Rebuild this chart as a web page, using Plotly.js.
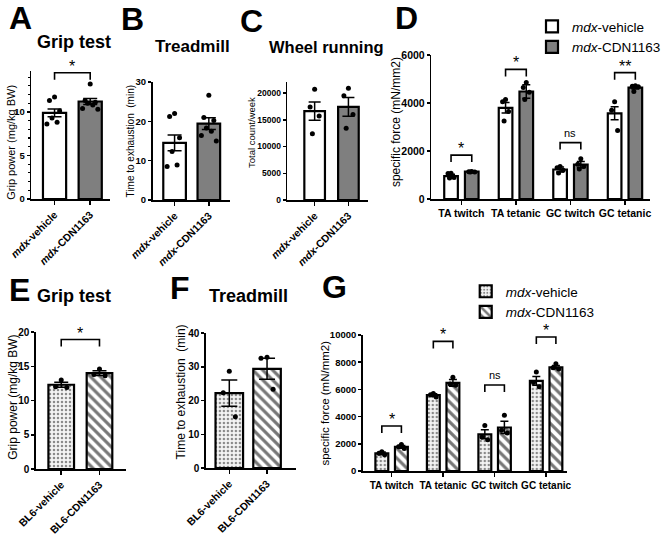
<!DOCTYPE html>
<html><head><meta charset="utf-8">
<script src="https://cdn.plot.ly/plotly-3.0.1.min.js"></script>
<style>html,body{margin:0;padding:0;background:#fff}#chart{width:666px;height:535px}</style>
</head><body><div id="chart"></div>
<script>
// ================= DATA =================
const mdxGroups = ['<i>mdx</i>-vehicle', '<i>mdx</i>-CDN1163'];
const bl6Groups = ['BL6-vehicle', 'BL6-CDN1163'];
const muscleCats = ['TA twitch', 'TA tetanic', 'GC twitch', 'GC tetanic'];
const legendNames = ['<i>mdx</i>-vehicle', '<i>mdx</i>-CDN1163'];

// A: grip test (mdx)
const gripMdxMean = [9.9, 11.2];
const gripMdxSem = [0.45, 0.35];
const gripMdxVehDots = [11.7, 11.3, 10.1, 9.3, 8.8, 8.6];
const gripMdxCdnDots = [13.2, 11.3, 11.1, 11.0, 10.8, 10.4, 10.3];
const gripMdxSigY = [14.5];
const gripMdxSigLabel = ['*'];

// B: treadmill (mdx)
const treadMdxMean = [14.5, 19.4];
const treadMdxSem = [2.0, 1.5];
const treadMdxVehDots = [22.0, 21.2, 15.8, 12.3, 8.9, 8.5];
const treadMdxCdnDots = [26.6, 21.0, 20.2, 18.3, 17.5, 16.4, 15.0];

// C: wheel running (mdx)
const wheelMean = [16600, 17400];
const wheelSem = [1700, 1750];
const wheelVehDots = [20700, 17400, 15700, 12400];
const wheelCdnDots = [20900, 19500, 16000, 13400];

// D: specific force (mdx)
const forceMdxVehMean = [950, 3800, 1230, 3570];
const forceMdxVehSem = [80, 220, 100, 270];
const forceMdxCdnMean = [1140, 4480, 1430, 4640];
const forceMdxCdnSem = [20, 280, 130, 60];
const forceMdxVehDots = [[1070, 1060, 900, 880], [4150, 4050, 3650, 3250], [1350, 1300, 1200, 1080], [4050, 3700, 2850]];
const forceMdxCdnDots = [[1150, 1140, 1130, 1120], [4850, 4650, 4450, 4150], [1680, 1450, 1350, 1250], [4720, 4700, 4680, 4480]];
const forceMdxSigY = [1830, 5400, 2350, 5265];
const forceMdxSigLabel = ['*', '*', 'ns', '**'];

// E: grip test (BL6)
const gripBl6Mean = [12.3, 14.0];
const gripBl6Sem = [0.35, 0.35];
const gripBl6VehDots = [13.0, 12.0, 11.9];
const gripBl6CdnDots = [14.6, 13.8, 13.6];
const gripBl6SigY = [18.9];
const gripBl6SigLabel = ['*'];

// F: treadmill (BL6)
const treadBl6Mean = [22.2, 29.4];
const treadBl6Sem = [3.9, 3.1];
const treadBl6VehDots = [28.7, 22.3, 15.2];
const treadBl6CdnDots = [32.8, 32.5, 23.3];

// G: specific force (BL6 panel)
const forceBl6VehMean = [1300, 5580, 2700, 6620];
const forceBl6VehSem = [100, 100, 330, 320];
const forceBl6CdnMean = [1780, 6480, 3200, 7630];
const forceBl6CdnSem = [100, 250, 450, 120];
const forceBl6VehDots = [[1420, 1300, 1200], [5700, 5600, 5450], [3350, 2500, 2300], [7280, 6500, 6200]];
const forceBl6CdnDots = [[1950, 1780, 1650], [6900, 6400, 6300], [4100, 3000, 2800], [7880, 7600, 7500]];
const forceBl6SigY = [3310, 9530, 6320, 9850];
const forceBl6SigLabel = ['*', '*', 'ns', '*'];

// ================= STYLE =================
const W = 666, H = 535;
const FONT = '"Liberation Sans", Arial, Helvetica, sans-serif';
const px2x = p => p / W;
const px2y = p => 1 - p / H;
const JIT = [0, -0.22, 0.22, -0.11, 0.11, -0.33, 0.33];

const solidWhite = {color: '#ffffff', line: {color: '#000', width: 2.2}};
const solidGray = {color: '#7f7f7f', line: {color: '#000', width: 2.2}};
const dotted = {color: '#f2f2f2', line: {color: '#000', width: 2.2},
  pattern: {shape: '.', fgcolor: '#8a8a8a', bgcolor: '#f4f4f4', size: 4, solidity: 0.3}};
const striped = {color: '#ffffff', line: {color: '#000', width: 2.2},
  pattern: {shape: '\\', fgcolor: '#777777', bgcolor: '#ffffff', size: 7, solidity: 0.45}};

const P = {
  A: {k: 1, xdom: [32, 112], ydom: [71, 199], xr: [-0.65, 1.55], yr: [0, 14.7], dtick: 5, minor: 1, ytf: 9.5, xtf: 10.5, angle: -45, barW: 0.65, cap: 7},
  B: {k: 2, xdom: [155.7, 235], ydom: [82, 200], xr: [-0.64, 1.63], yr: [0, 30], dtick: 10, ytf: 9.5, xtf: 10.5, angle: -45, barW: 0.66, cap: 7},
  C: {k: 3, xdom: [293, 375], ydom: [82.3, 200], xr: [-0.81, 1.57], yr: [0, 22000], dtick: 5000, ytf: 8.5, xtf: 10.5, angle: -45, barW: 0.61, cap: 6},
  D: {k: 4, xdom: [440, 663], ydom: [55, 199], xr: [-0.55, 3.46], yr: [0, 6000], dtick: 2000, ytf: 10.5, xtf: 10.5, angle: 0, barW: 0.25, off: 0.19, cap: 4},
  E: {k: 5, xdom: [36.7, 128], ydom: [332, 469], xr: [-0.66, 1.68], yr: [0, 20], dtick: 5, ytf: 10, xtf: 10.5, angle: -45, barW: 0.67, cap: 7},
  F: {k: 6, xdom: [210, 302], ydom: [333, 468], xr: [-0.62, 1.77], yr: [0, 40], dtick: 10, ytf: 10, xtf: 10.5, angle: -45, barW: 0.73, cap: 8},
  G: {k: 7, xdom: [370, 578], ydom: [335, 471], xr: [-0.56, 3.4], yr: [0, 10000], dtick: 2000, ytf: 9.5, xtf: 10, angle: 0, barW: 0.25, off: 0.19, cap: 4}
};

const traces = [];
const dotTraces = [];
const annotations = [];
const layout = {
  width: W, height: H, margin: {l: 0, r: 0, t: 0, b: 0},
  paper_bgcolor: '#fff', plot_bgcolor: 'rgba(0,0,0,0)',
  barmode: 'overlay', showlegend: true, hovermode: false,
  font: {family: FONT, color: '#000'},
  annotations: annotations,
  legend: {x: px2x(543), y: px2y(11), xanchor: 'left', yanchor: 'top', bgcolor: 'rgba(0,0,0,0)',
    font: {family: FONT, size: 13.5, color: '#000'}, tracegroupgap: 0},
  legend2: {x: px2x(475), y: px2y(276), xanchor: 'left', yanchor: 'top', bgcolor: 'rgba(0,0,0,0)',
    font: {family: FONT, size: 13.5, color: '#000'}, tracegroupgap: 0}
};

function ids(k) { const s = k === 1 ? '' : String(k); return {x: 'x' + s, y: 'y' + s, xa: 'xaxis' + s, ya: 'yaxis' + s}; }

function buildAxes(p, tickvals, ticktext) {
  const id = ids(p.k);
  const common = {showline: true, linecolor: '#000', linewidth: 1.6, ticks: 'outside',
    tickwidth: 1.5, tickcolor: '#000', showgrid: false, zeroline: false, fixedrange: true};
  layout[id.xa] = Object.assign({}, common, {
    domain: [px2x(p.xdom[0]), px2x(p.xdom[1])], range: p.xr, anchor: id.y, ticklen: 4,
    tickmode: 'array', tickvals: tickvals, ticktext: ticktext, tickangle: p.angle,
    tickfont: {family: FONT, size: p.xtf, color: '#000', weight: 'bold'}
  });
  const ya = Object.assign({}, common, {
    domain: [px2y(p.ydom[1]), px2y(p.ydom[0])], range: p.yr, anchor: id.x, ticklen: 3,
    tick0: 0, dtick: p.dtick, tickformat: 'd',
    tickfont: {family: FONT, size: p.ytf, color: '#000', weight: 'bold'}
  });
  if (p.minor) ya.minor = {dtick: p.minor, ticklen: 2, tickwidth: 1.2, tickcolor: '#000', ticks: 'outside', showgrid: false};
  layout[id.ya] = ya;
}

function errY(arr, cap) { return {type: 'data', array: arr, color: '#000', thickness: 1.5, width: cap}; }

function addDots(p, xs, dots) {
  const id = ids(p.k);
  dotTraces.push({type: 'scatter', mode: 'markers', xaxis: id.x, yaxis: id.y, showlegend: false,
    x: dots.map((_, j) => xs + JIT[j % JIT.length] * p.barW), y: dots,
    marker: {color: '#000', size: 5}, hoverinfo: 'skip', cliponaxis: false});
}

function addBracket(p, x1, x2, y, label) {
  const id = ids(p.k);
  const drop = 7 * (p.yr[1] - p.yr[0]) / (p.ydom[1] - p.ydom[0]);
  dotTraces.push({type: 'scatter', mode: 'lines', xaxis: id.x, yaxis: id.y, showlegend: false,
    x: [x1, x1, x2, x2], y: [y - drop, y, y, y - drop], line: {color: '#000', width: 1.6}, hoverinfo: 'skip'});
  const isNs = label === 'ns';
  annotations.push({xref: id.x, yref: id.y, x: (x1 + x2) / 2, y: y, text: label, showarrow: false,
    xanchor: 'center', yanchor: 'bottom', yshift: isNs ? 2 : -4,
    font: {family: FONT, size: isNs ? 11 : 16, color: '#000'}});
}

function twoBar(p, groups, means, sems, vehDots, cdnDots, styles, sigY, sigLabel) {
  const id = ids(p.k);
  buildAxes(p, [0, 1], groups);
  means.forEach((m, i) => {
    traces.push({type: 'bar', x: [i], y: [m], width: p.barW, xaxis: id.x, yaxis: id.y,
      marker: styles[i], error_y: errY([sems[i]], p.cap), showlegend: false, hoverinfo: 'skip'});
  });
  addDots(p, 0, vehDots);
  addDots(p, 1, cdnDots);
  if (sigY) sigY.forEach((y, i) => addBracket(p, 0, 1, y, sigLabel[i]));
}

function grouped(p, cats, vMean, vSem, vDots, cMean, cSem, cDots, styles, legendId, sigY, sigLabel) {
  const id = ids(p.k);
  buildAxes(p, cats.map((_, i) => i), cats);
  const offs = [-p.off, p.off];
  [[vMean, vSem], [cMean, cSem]].forEach(([m, s], g) => {
    traces.push({type: 'bar', name: legendNames[g], legend: legendId, x: cats.map((_, i) => i + offs[g]), y: m,
      width: p.barW, xaxis: id.x, yaxis: id.y, marker: styles[g], error_y: errY(s, p.cap),
      showlegend: true, hoverinfo: 'skip'});
  });
  cats.forEach((_, i) => { addDots(p, i + offs[0], vDots[i]); addDots(p, i + offs[1], cDots[i]); });
  sigY.forEach((y, i) => addBracket(p, i + offs[0], i + offs[1], y, sigLabel[i]));
}

twoBar(P.A, mdxGroups, gripMdxMean, gripMdxSem, gripMdxVehDots, gripMdxCdnDots, [solidWhite, solidGray], gripMdxSigY, gripMdxSigLabel);
twoBar(P.B, mdxGroups, treadMdxMean, treadMdxSem, treadMdxVehDots, treadMdxCdnDots, [solidWhite, solidGray]);
twoBar(P.C, mdxGroups, wheelMean, wheelSem, wheelVehDots, wheelCdnDots, [solidWhite, solidGray]);
grouped(P.D, muscleCats, forceMdxVehMean, forceMdxVehSem, forceMdxVehDots, forceMdxCdnMean, forceMdxCdnSem, forceMdxCdnDots, [solidWhite, solidGray], 'legend', forceMdxSigY, forceMdxSigLabel);
twoBar(P.E, bl6Groups, gripBl6Mean, gripBl6Sem, gripBl6VehDots, gripBl6CdnDots, [dotted, striped], gripBl6SigY, gripBl6SigLabel);
twoBar(P.F, bl6Groups, treadBl6Mean, treadBl6Sem, treadBl6VehDots, treadBl6CdnDots, [dotted, striped]);
grouped(P.G, muscleCats, forceBl6VehMean, forceBl6VehSem, forceBl6VehDots, forceBl6CdnMean, forceBl6CdnSem, forceBl6CdnDots, [dotted, striped], 'legend2', forceBl6SigY, forceBl6SigLabel);

// ---- texts: panel letters, titles, y-axis titles ----
function paperText(text, xpx, ypx, size, opts) {
  annotations.push(Object.assign({xref: 'paper', yref: 'paper', x: px2x(xpx), y: px2y(ypx), text: text,
    showarrow: false, xanchor: 'center', yanchor: 'middle', font: {family: FONT, size: size, color: '#000'}}, opts || {}));
}
const letters = [['A', 7, 18], ['B', 121, 19], ['C', 243, 21], ['D', 401, 18], ['E', 7, 290], ['F', 171, 288], ['G', 326, 287]];
letters.forEach(([t, x, y]) => paperText(t, x, y, 32, {xanchor: 'left', font: {family: FONT, size: 32, color: '#000', weight: 'bold'}}));

const titles = [['Grip test', 75.5, 42, 18], ['Treadmill', 196.5, 47, 17], ['Wheel running', 333, 47, 16.5], ['Grip test', 75.7, 296, 18], ['Treadmill', 253, 296, 18]];
titles.forEach(([t, x, y, s]) => paperText(t, x, y, s, {font: {family: FONT, size: s, color: '#000', weight: 'bold'}}));

const yTitles = [['Grip power (mg/kg BW)', 11, 142, 11], ['Time to exhaustion  (min)', 133, 141, 10], ['Total count/week', 257, 132, 9.5],
  ['specific force (mN/mm2)', 404, 122, 12], ['Grip power (mg/kg BW)', 13, 397, 12], ['Time to exhaustion  (min)', 185, 392, 12],
  ['specific force (mN/mm2)', 331, 403, 11.5]];
yTitles.forEach(([t, x, y, s]) => paperText(t, x, y, s, {textangle: -90}));

Plotly.newPlot('chart', traces.concat(dotTraces), layout, {staticPlot: true, displayModeBar: false});
</script>
</body></html>
